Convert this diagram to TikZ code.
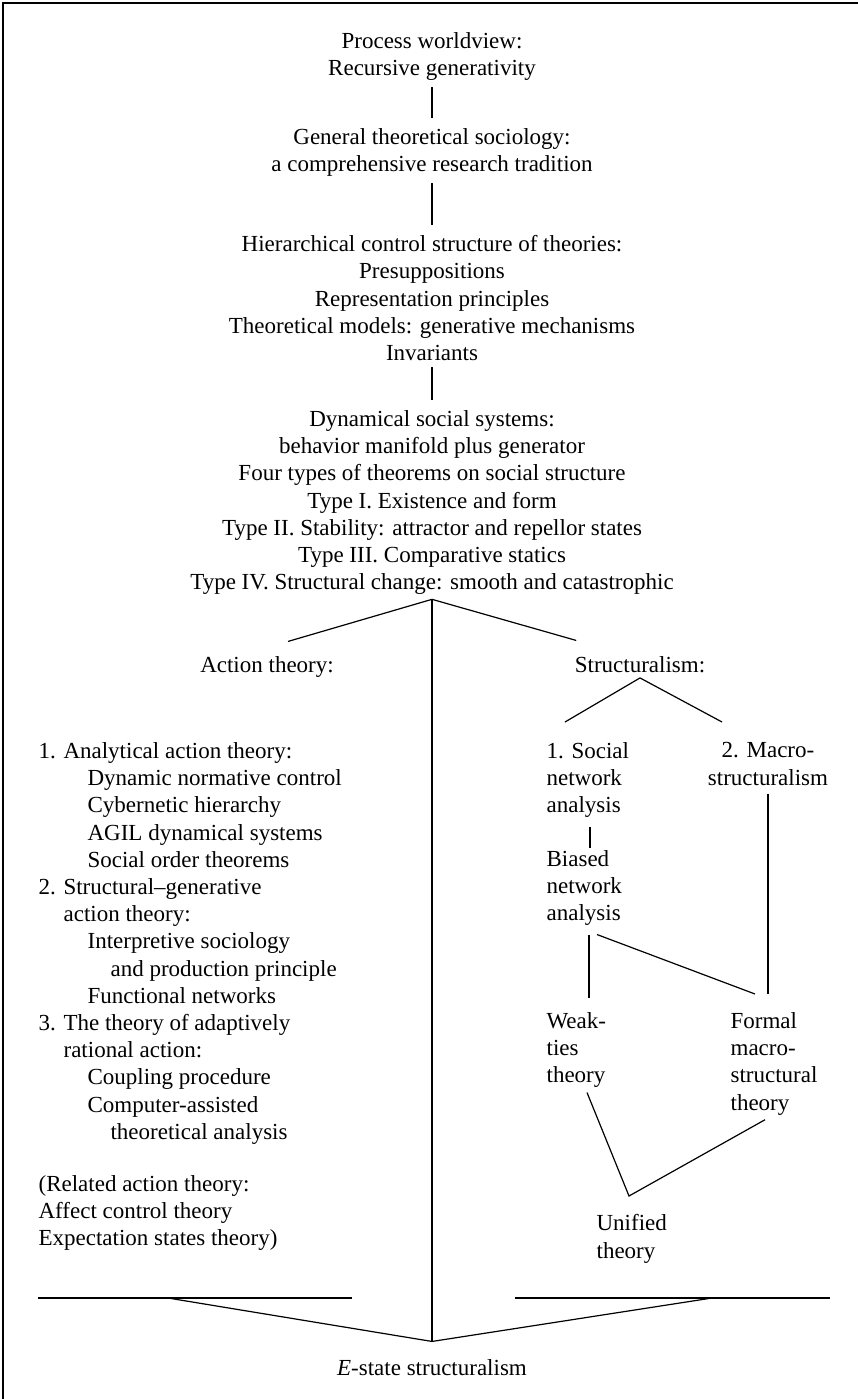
\documentclass[tikz,border=0pt]{standalone}
\usepackage{fontspec}
\setmainfont{Liberation Serif}
\usetikzlibrary{calc}
\usetikzlibrary{positioning}

\begin{document}
\begin{tikzpicture}[x=1pt,y=-1pt,
    every node/.style={inner sep=0pt,font=\fontsize{23}{27.2}\selectfont},
    block/.style={align=center,anchor=north},
    stack/.style={align=left,anchor=north west},
    label/.style={anchor=base},
    every path/.style={line width=1.2pt}]

  \useasboundingbox (0,0) rectangle (858,1399);
  \draw [line width=1.4pt] (3,1399) -- (3,3) -- (858,3);

  % spine of theories
  \node [block] (worldview) at (432,32)
    {Process worldview:\\Recursive generativity};
  \node [block] (sociology) at (432,128)
    {General theoretical sociology:\\a comprehensive research tradition};
  \node [block] (hierarchy) at (432,235)
    {Hierarchical control structure of theories:\\Presuppositions\\Representation principles\\
     Theoretical models: generative mechanisms\\Invariants};
  \node [block] (dynsys) at (432,410)
    {Dynamical social systems:\\behavior manifold plus generator\\
     Four types of theorems on social structure\\Type I. Existence and form\\
     Type II. Stability: attractor and repellor states\\Type III. Comparative statics\\
     Type IV. Structural change: smooth and catastrophic};
  \coordinate (split) at ([yshift=-4pt]dynsys.south);

  \node [label] (action) at (267,672) {Action theory:};
  \node [label] (struct) at (640,672) {Structuralism:};

  % action theory column
  \node [stack] (actlist) at (38,742)
    {1. Analytical action theory:\\
     \hspace*{49pt}Dynamic normative control\\
     \hspace*{49pt}Cybernetic hierarchy\\
     \hspace*{49pt}AGIL dynamical systems\\
     \hspace*{49pt}Social order theorems\\
     2. Structural--generative\\
     \hspace*{25pt}action theory:\\
     \hspace*{49pt}Interpretive sociology\\
     \hspace*{72pt}and production principle\\
     \hspace*{49pt}Functional networks\\
     3. The theory of adaptively\\
     \hspace*{25pt}rational action:\\
     \hspace*{49pt}Coupling procedure\\
     \hspace*{49pt}Computer-assisted\\
     \hspace*{72pt}theoretical analysis};
  \node [stack] (related) at (38,1175)
    {(Related action theory:\\Affect control theory\\Expectation states theory)};

  % structuralism column
  \node [stack] (social) at (546,742) {1. Social\\network\\analysis};
  \node [block] (macro) at (768,742) {2. Macro-\\structuralism};
  \node [stack] (biased) at (546,850) {Biased\\network\\analysis};
  \node [stack] (weak) at (546,1012) {Weak-\\ties\\theory};
  \node [stack] (formal) at (730,1012) {Formal\\macro-\\structural\\theory};
  \node [stack] (unified) at (596,1214) {Unified\\theory};

  \node [label] (estate) at (432,1375) {\textit{E}-state structuralism};
  \coordinate (join) at ([yshift=17pt]estate.north);
  \coordinate (actbase) at (168,1298);
  \coordinate (strbase) at (712,1298);

  \path [draw,shorten <=6pt,shorten >=10pt]
    (worldview) edge (sociology)
    (sociology) edge (hierarchy)
    (hierarchy) edge (dynsys);

  \path [draw]
    (split) edge ([xshift=21pt,yshift=14pt]action.north)
    (split) edge ([xshift=2pt,yshift=15pt]struct.north west)
    (split) edge (join)
    ([yshift=-5pt]struct.south) edge ($(social.north west)+(19,-20)$)
    ([yshift=-5pt]struct.south) edge ([xshift=-46pt,yshift=20pt]macro.north)
    ($(social.south west)+(44,8)$) edge ($(biased.north west)+(44,-2)$)
    ($(biased.south west)+(43,8)$) edge ($(weak.north west)+(43,-14)$)
    ($(biased.south west)+(51,8)$) edge ($(formal.north west)+(25,-18)$)
    ([yshift=-8pt]macro.south) edge ([yshift=18pt]macro.south |- formal.north);

  \draw ($(weak.south west)+(41,4)$) -- ([xshift=33pt,yshift=18pt]unified.north west)
    -- ($(formal.south west)+(35,4)$);

  % bottom rules
  \draw [line width=1.5pt] (38,1298) -- (352,1298);
  \draw [line width=1.5pt] (515,1298) -- (830,1298);
  \draw (actbase) -- (join) -- (strbase);

\end{tikzpicture}
\end{document}
